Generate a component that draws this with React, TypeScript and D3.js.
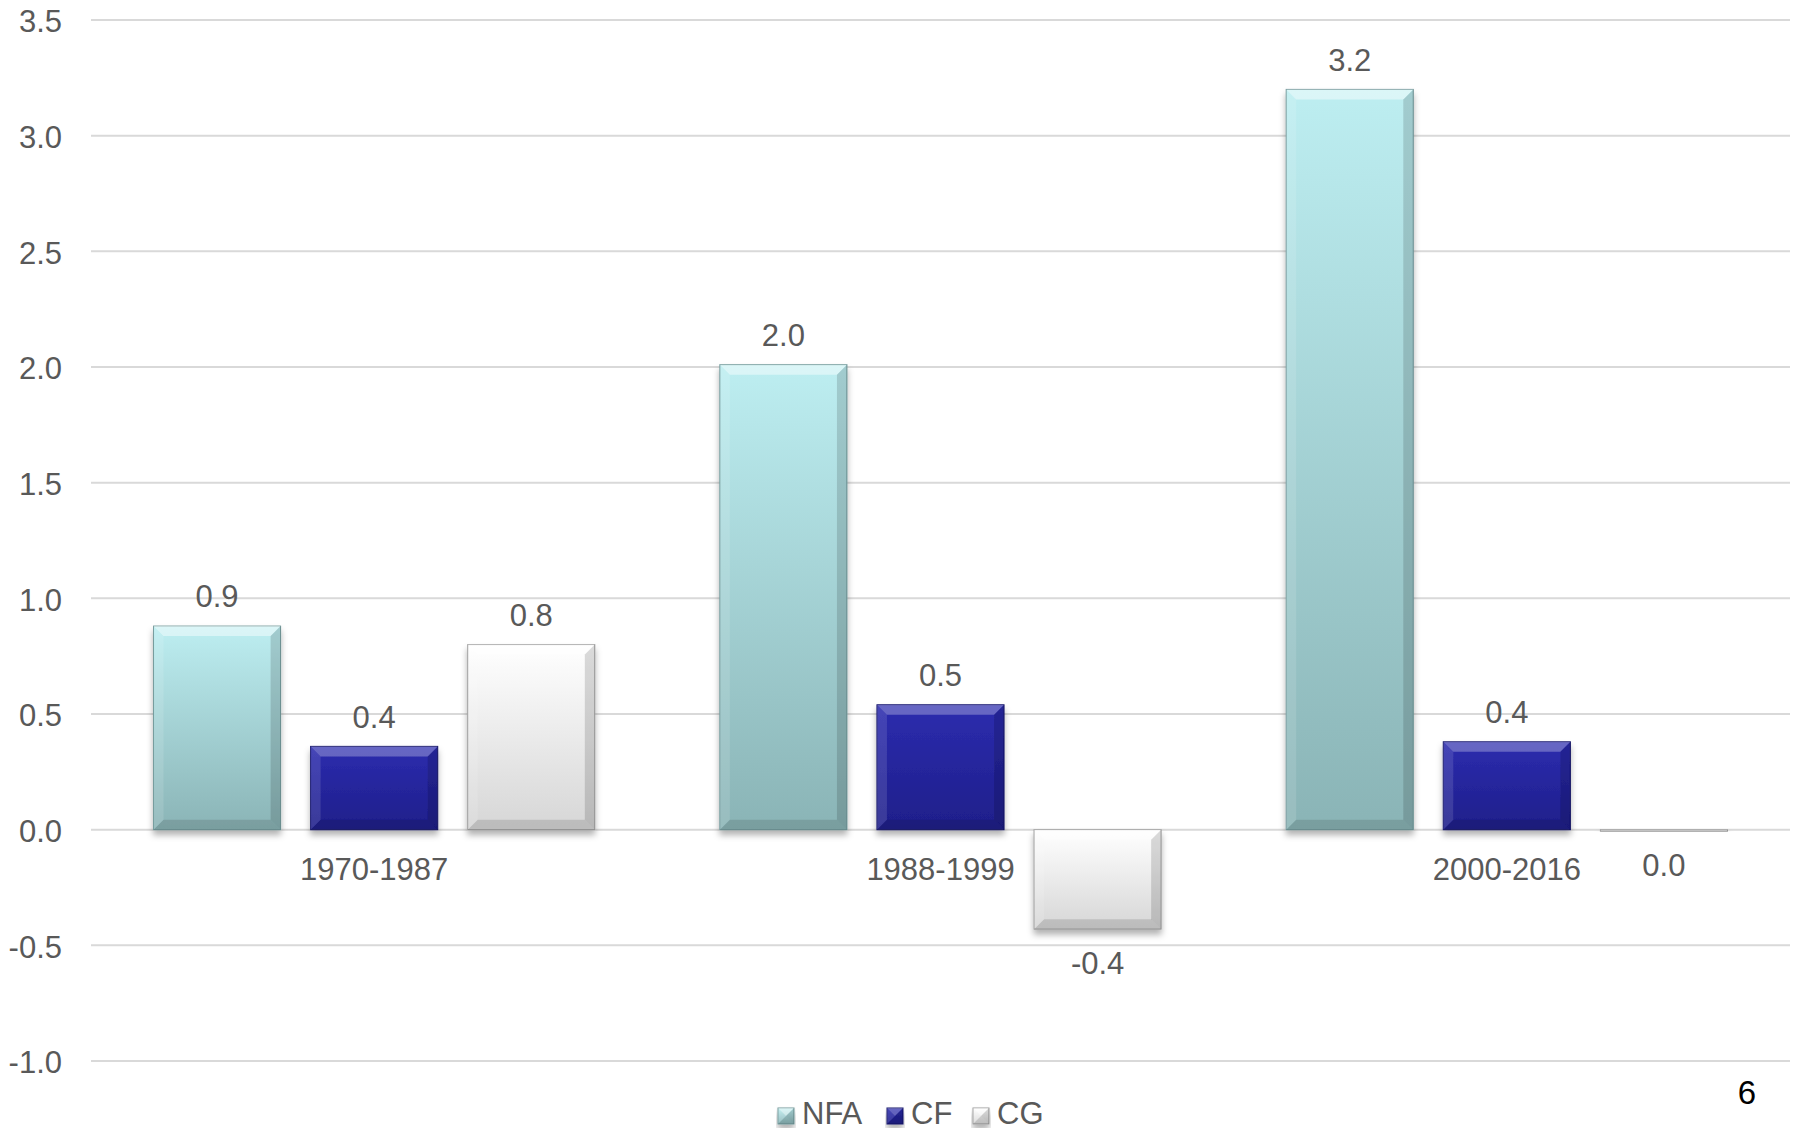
import * as d3 from 'd3'

const categories = ['1970-1987', '1988-1999', '2000-2016']
const seriesNames = ['NFA', 'CF', 'CG']
const nfaValues = [0.88, 2.01, 3.2]
const cfValues = [0.36, 0.54, 0.38]
const cgValues = [0.8, -0.43, -0.005]
const yTicks = [-1.0, -0.5, 0.0, 0.5, 1.0, 1.5, 2.0, 2.5, 3.0, 3.5]

const seriesValues = [nfaValues, cfValues, cgValues]

// gradient + bevel colours per series
const palette = [
  {top: '#bdeef1', bottom: '#8ab4b6', edge: '#6f9698'},
  {top: '#2c2cae', bottom: '#1e1e8a', edge: '#15156a'},
  {top: '#ffffff', bottom: '#d6d6d6', edge: '#9a9a9a'},
]

const width = 1796
const height = 1133
const left = 91
const right = 1790
const top = 20
const bottom = 1061
const font = '"Liberation Sans", Arial, sans-serif'
const fontSize = 31
const textColor = '#595959'
const dy = 4 // nudge text centre down a bit

const Bar = ({x, y, w, h, i}: {x: number, y: number, w: number, h: number, i: number}) => {
  const b = Math.max(0, Math.min(10, h / 2, w / 2))
  const c = palette[i]
  return (
    <g filter="url(#shadow)">
      <rect x={x} y={y} width={w} height={h} fill={`url(#grad${i})`} stroke={c.edge} strokeWidth={1}/>
      {b > 0.5 && (
        <>
          <polygon points={`${x},${y} ${x + w},${y} ${x + w - b},${y + b} ${x + b},${y + b}`}
                   fill="#ffffff" opacity={i === 1 ? 0.28 : 0.45}/>
          <polygon points={`${x},${y + h} ${x + w},${y + h} ${x + w - b},${y + h - b} ${x + b},${y + h - b}`}
                   fill="#000000" opacity={0.12}/>
          <polygon points={`${x},${y} ${x + b},${y + b} ${x + b},${y + h - b} ${x},${y + h}`}
                   fill="#ffffff" opacity={0.12}/>
          <polygon points={`${x + w},${y} ${x + w - b},${y + b} ${x + w - b},${y + h - b} ${x + w},${y + h}`}
                   fill="#000000" opacity={0.14}/>
        </>
      )}
    </g>
  )
}

const App = () => {
  const x0 = d3.scaleBand<string>()
    .domain(categories)
    .range([left, right])
    .padding(0)

  const x1 = d3.scaleBand<string>()
    .domain(seriesNames)
    .range([0, x0.bandwidth()])
    .paddingInner(0.191)
    .paddingOuter(0.398)

  const y = d3.scaleLinear()
    .domain([-1.0, 3.5])
    .range([bottom, top])

  const fmt = (v: number) => d3.format('.1f')(v).replace('\u2212', '-')
  const legendX = [778, 887, 973]

  return (
    <svg width={width} height={height} style={{position: 'absolute', left: 0, top: 0}}
         fontFamily={font}>
      <defs>
        {palette.map((c, i) => (
          <linearGradient key={i} id={`grad${i}`} x1="0" y1="0" x2="0" y2="1">
            <stop offset="0%" stopColor={c.top}/>
            <stop offset="100%" stopColor={c.bottom}/>
          </linearGradient>
        ))}
        <filter id="shadow" x="-10%" y="-10%" width="120%" height="130%">
          <feDropShadow dx="0" dy="5" stdDeviation="3" floodColor="#000" floodOpacity="0.3"/>
        </filter>
      </defs>
      <rect width={width} height={height} fill="#ffffff"/>

      {/* gridlines + y ticks */}
      {yTicks.map((t) => (
        <g key={t}>
          <line x1={left} x2={right} y1={y(t)} y2={y(t)} stroke="#d9d9d9" strokeWidth={2}/>
          <text x={62} y={y(t) + dy} textAnchor="end" dominantBaseline="middle"
                fontSize={fontSize} fill={textColor}>{fmt(t)}</text>
        </g>
      ))}

      {/* bars */}
      {categories.map((cat, ci) => (
        <g key={cat} transform={`translate(${x0(cat)},0)`}>
          {seriesNames.map((s, si) => {
            const v = seriesValues[si][ci]
            const yTop = y(Math.max(0, v))
            const h = Math.max(1.5, Math.abs(y(v) - y(0)))
            return <Bar key={s} x={x1(s)!} y={yTop} w={x1.bandwidth()} h={h} i={si}/>
          })}
        </g>
      ))}

      {/* value labels */}
      {categories.map((cat, ci) => (
        <g key={cat + 'l'} transform={`translate(${x0(cat)},0)`}>
          {seriesNames.map((s, si) => {
            const v = seriesValues[si][ci]
            const ly = v >= 0 ? y(v) - 31 : y(v) + 33
            return (
              <text key={s} x={x1(s)! + x1.bandwidth() / 2} y={ly + dy} textAnchor="middle"
                    dominantBaseline="middle" fontSize={fontSize} fill={textColor}>
                {fmt(Math.abs(v) < 0.05 ? 0 : v)}
              </text>
            )
          })}
        </g>
      ))}

      {/* category labels */}
      {categories.map((cat) => (
        <text key={cat + 'c'} x={x0(cat)! + x0.bandwidth() / 2} y={y(0) + 38 + dy}
              textAnchor="middle" dominantBaseline="middle" fontSize={fontSize} fill={textColor}>
          {cat}
        </text>
      ))}

      {/* legend */}
      {seriesNames.map((s, i) => (
        <g key={s + 'leg'}>
          <Bar x={legendX[i]} y={1108} w={16} h={16} i={i}/>
          <text x={legendX[i] + 24} y={1112 + dy} dominantBaseline="middle" fontSize={fontSize} fill={textColor}>{s}</text>
        </g>
      ))}

      <text x={1747} y={1091 + dy} textAnchor="middle" dominantBaseline="middle" fontSize={33} fill="#000000">6</text>
    </svg>
  )
}

export default App
